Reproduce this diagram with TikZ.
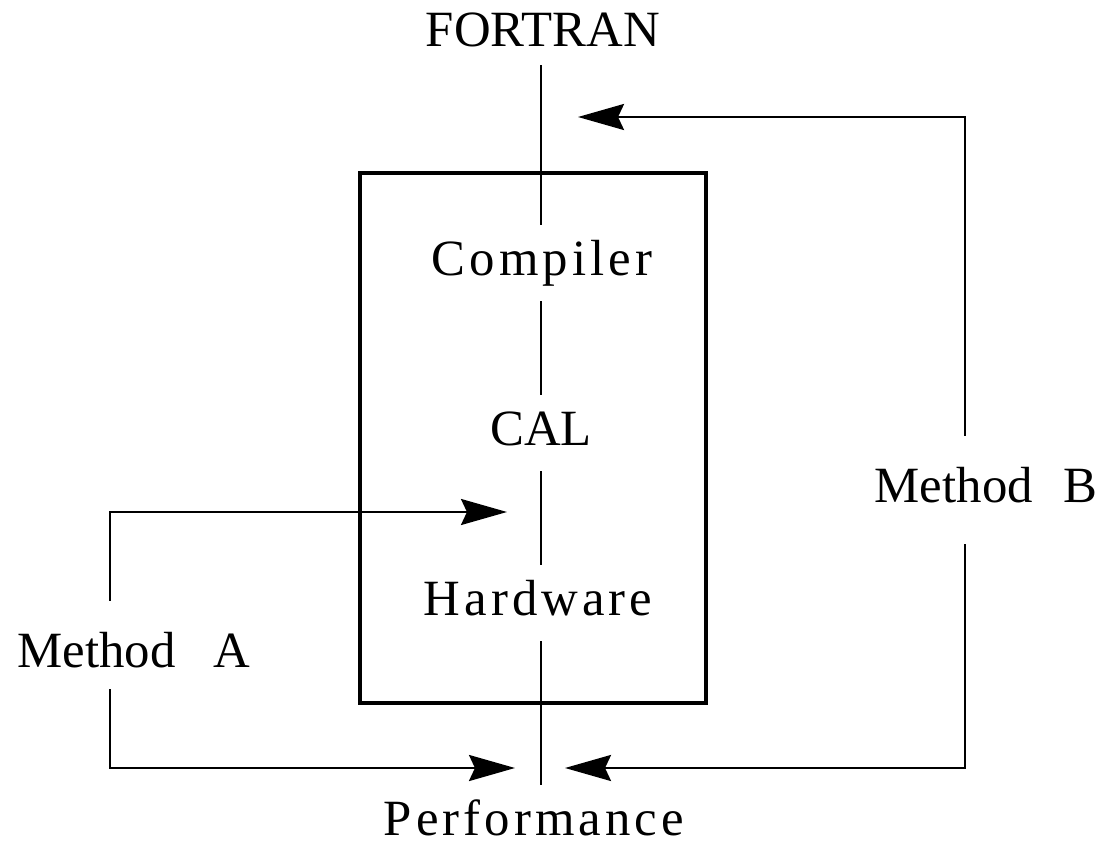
\documentclass[tikz,border=0pt]{standalone}
\usepackage{fontspec}
\setmainfont{Liberation Serif}
\newfontfamily\spaced[LetterSpace=8]{Liberation Serif}
\usetikzlibrary{positioning,arrows.meta}

\begin{document}
\begin{tikzpicture}[
    x=0.5pt, y=-0.5pt,
    lbl/.style={font=\fontsize{25.4}{30}\selectfont, inner xsep=0pt, inner ysep=8pt, text height=17pt, text depth=5pt, anchor=base},
    wide/.style={lbl, font=\spaced\fontsize{25.4}{30}\selectfont},
    tag/.style={lbl, inner ysep=16pt},
    spine/.style={line width=1.3pt},
    bus/.style={line width=1.3pt, -{Stealth[length=23pt, width=13pt, inset=3pt]}},
    frame/.style={draw, line width=1.7pt, minimum width=173pt, minimum height=265pt, inner sep=0pt}
]
\useasboundingbox (0,0) rectangle (1101,845);

\node[frame] (sys) at (533,438) {};

\node[lbl] (fortran) at (543,47) {FORTRAN};
\node[wide] (compiler) at (542,275) {Compiler};
\node[lbl] (cal) at (541,445) {CAL};
\node[wide] (hardware) at (538,615) {Hardware};
\node[wide] (perf) at (534,835) {Performance};
\node[tag] (mA) at (134,667) {Method\hspace{0.75em}A};
\node[tag] (mB) at (986,502) {Method\hspace{0.6em}B};

\coordinate (sp) at (541,0);
\coordinate (aCorner) at (110,512);
\coordinate (aIn) at (507,512);
\coordinate (aLow) at (110,768);
\coordinate (aOut) at (515,768);
\coordinate (bCorner) at (965,117);
\coordinate (bIn) at (578,117);
\coordinate (bLow) at (965,768);
\coordinate (bOut) at (565,768);

\draw[spine, shorten <=-4pt] (fortran.south -| sp) -- (compiler.north -| sp);
\draw[spine] (compiler.south -| sp) -- (cal.north -| sp);
\draw[spine] (cal.south -| sp) -- (hardware.north -| sp);
\draw[spine] (hardware.south -| sp) -- (perf.north -| sp);

\draw[bus] (mA.north -| aCorner) -- (aCorner) -- (aIn);
\draw[bus, shorten <=-10pt] (mA.south -| aLow) -- (aLow) -- (aOut);
\draw[bus] (mB.north -| bCorner) -- (bCorner) -- (bIn);
\draw[bus] (mB.south -| bLow) -- (bLow) -- (bOut);
\end{tikzpicture}
\end{document}
